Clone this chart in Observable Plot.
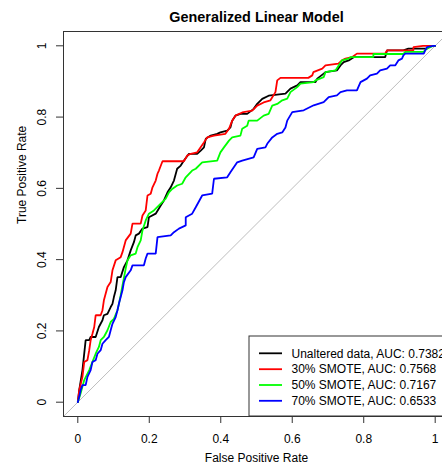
<!DOCTYPE html>
<html>
<head>
<meta charset="utf-8">
<script src="https://cdn.jsdelivr.net/npm/d3@7"></script>
<script src="https://cdn.jsdelivr.net/npm/@observablehq/plot@0.6"></script>
<style>
  html, body { margin: 0; padding: 0; background: white; overflow: hidden; }
  #chart { width: 460px; }
  svg { display: block; max-width: none !important; }
</style>
</head>
<body>
<div id="chart"></div>
<script>
const chartTitle = "Generalized Linear Model";
const xLabel = "False Positive Rate";
const yLabel = "True Positive Rate";
const xTicks = [0, 0.2, 0.4, 0.6, 0.8, 1];
const xTickLabels = ["0", "0.2", "0.4", "0.6", "0.8", "1"];
const yTicks = [0, 0.2, 0.4, 0.6, 0.8, 1];
const yTickLabels = ["0", "0.2", "0.4", "0.6", "0.8", "1"];

const seriesNames = ["Unaltered data", "30% SMOTE", "50% SMOTE", "70% SMOTE"];
const seriesAUC = ["0.7382", "0.7568", "0.7167", "0.6533"];
const seriesColors = ["#000000", "#ff0000", "#00ff00", "#0000ff"];

const fprBlack = [0,0.004,0.013,0.022,0.032,0.036,0.050,0.059,0.069,0.073,0.083,0.092,0.097,0.101,0.106,0.111,0.120,0.129,0.139,0.148,0.157,0.162,0.171,0.181,0.195,0.199,0.218,0.232,0.241,0.251,0.260,0.269,0.278,0.288,0.297,0.311,0.334,0.344,0.353,0.358,0.372,0.390,0.399,0.418,0.427,0.432,0.441,0.455,0.474,0.492,0.502,0.516,0.534,0.581,0.595,0.614,0.623,0.665,0.670,0.688,0.693,0.725,0.735,0.744,0.758,0.772,0.860,0.865,0.911,0.925,0.977,0.986,1];
const tprBlack = [0,0.034,0.090,0.174,0.174,0.183,0.183,0.211,0.230,0.244,0.248,0.267,0.276,0.295,0.314,0.351,0.351,0.379,0.398,0.426,0.449,0.468,0.473,0.487,0.491,0.519,0.529,0.552,0.566,0.589,0.603,0.622,0.655,0.664,0.678,0.697,0.697,0.706,0.715,0.739,0.748,0.753,0.757,0.762,0.771,0.790,0.804,0.809,0.809,0.823,0.837,0.851,0.860,0.866,0.880,0.889,0.898,0.898,0.908,0.922,0.926,0.931,0.945,0.954,0.959,0.968,0.968,0.987,0.987,0.992,0.992,1,1];

const fprRed = [0,0.004,0.013,0.018,0.027,0.032,0.036,0.041,0.046,0.050,0.064,0.069,0.073,0.083,0.092,0.097,0.106,0.120,0.125,0.134,0.148,0.153,0.176,0.181,0.190,0.195,0.204,0.209,0.218,0.223,0.227,0.237,0.297,0.306,0.316,0.334,0.353,0.362,0.381,0.413,0.423,0.432,0.441,0.460,0.488,0.502,0.520,0.539,0.553,0.558,0.567,0.645,0.656,0.659,0.684,0.693,0.729,0.739,0.749,0.767,0.781,0.860,0.865,0.939,0.939,0.966,1];
const tprRed = [0,0.034,0.071,0.113,0.118,0.146,0.174,0.192,0.211,0.244,0.244,0.258,0.286,0.323,0.337,0.370,0.398,0.407,0.421,0.454,0.473,0.501,0.501,0.524,0.538,0.580,0.585,0.603,0.622,0.641,0.650,0.676,0.676,0.692,0.697,0.701,0.729,0.743,0.748,0.753,0.767,0.790,0.804,0.813,0.818,0.832,0.841,0.847,0.870,0.903,0.910,0.910,0.917,0.926,0.936,0.945,0.950,0.959,0.964,0.968,0.978,0.978,0.987,0.987,0.996,1,1];

const fprGreen = [0,0.008,0.018,0.032,0.041,0.050,0.059,0.064,0.073,0.083,0.092,0.101,0.111,0.115,0.120,0.125,0.134,0.139,0.148,0.162,0.167,0.176,0.181,0.190,0.199,0.213,0.232,0.246,0.255,0.265,0.278,0.292,0.302,0.320,0.330,0.348,0.390,0.399,0.409,0.423,0.432,0.455,0.460,0.474,0.478,0.502,0.520,0.534,0.544,0.558,0.572,0.586,0.595,0.614,0.623,0.660,0.665,0.688,0.693,0.721,0.730,0.739,0.758,0.763,0.827,0.827,0.911,0.916,0.967,0.977,0.995,1];
const tprGreen = [0,0.025,0.062,0.090,0.113,0.136,0.155,0.174,0.183,0.202,0.225,0.234,0.258,0.276,0.300,0.328,0.375,0.398,0.412,0.417,0.435,0.454,0.482,0.510,0.529,0.538,0.557,0.571,0.589,0.599,0.608,0.613,0.631,0.650,0.655,0.673,0.678,0.701,0.715,0.734,0.743,0.748,0.767,0.776,0.790,0.790,0.804,0.809,0.832,0.837,0.847,0.852,0.870,0.884,0.894,0.898,0.903,0.912,0.926,0.931,0.945,0.959,0.964,0.968,0.968,0.977,0.977,0.983,0.983,0.992,1,1];

const fprBlue = [0,0.004,0.008,0.013,0.022,0.027,0.036,0.041,0.050,0.055,0.064,0.069,0.078,0.087,0.092,0.097,0.106,0.111,0.115,0.120,0.125,0.129,0.134,0.148,0.153,0.185,0.190,0.195,0.218,0.223,0.260,0.269,0.283,0.302,0.302,0.320,0.330,0.348,0.376,0.381,0.418,0.427,0.446,0.460,0.492,0.502,0.525,0.530,0.544,0.558,0.572,0.581,0.586,0.600,0.632,0.660,0.688,0.702,0.725,0.735,0.753,0.781,0.791,0.809,0.818,0.837,0.846,0.865,0.874,0.888,0.897,0.907,0.911,0.916,0.968,0.972,0.977,0.995,1];
const tprBlue = [0,0.015,0.034,0.048,0.048,0.071,0.090,0.113,0.118,0.136,0.146,0.164,0.174,0.183,0.202,0.220,0.239,0.258,0.276,0.295,0.314,0.337,0.351,0.370,0.384,0.384,0.403,0.417,0.417,0.463,0.468,0.477,0.487,0.496,0.519,0.529,0.547,0.580,0.585,0.627,0.631,0.645,0.673,0.678,0.687,0.711,0.715,0.725,0.743,0.753,0.757,0.771,0.790,0.814,0.819,0.833,0.842,0.856,0.861,0.870,0.875,0.875,0.898,0.908,0.917,0.922,0.931,0.936,0.945,0.945,0.959,0.964,0.973,0.978,0.978,0.987,0.996,1,1];

const seriesFpr = [fprBlack, fprRed, fprGreen, fprBlue];
const seriesTpr = [tprBlack, tprRed, tprGreen, tprBlue];

// chance diagonal spanning the full (4%-extended) plot region
const diagonal = [{x: -0.04, y: -0.04}, {x: 1.04, y: 1.04}];

const font = "'Liberation Sans', Arial, Helvetica, sans-serif";

const curveMarks = seriesNames.map((name, i) =>
  Plot.line(seriesFpr[i].map((f, j) => ({fpr: f, tpr: seriesTpr[i][j]})), {
    x: "fpr", y: "tpr", stroke: seriesColors[i], strokeWidth: 1.8, strokeLinejoin: "miter"
  })
);

const W = 460, H = 465;
const mL = 63, mR = 11, mT = 31, mB = 49, ins = 14.3;

const svg = Plot.plot({
  width: W, height: H,
  marginLeft: mL, marginRight: mR, marginTop: mT, marginBottom: mB,
  insetLeft: ins, insetRight: ins, insetTop: ins, insetBottom: ins,
  x: {domain: [0, 1]},
  y: {domain: [0, 1]},
  style: {fontFamily: font, fontSize: "12px", color: "black", background: "white", maxWidth: "none"},
  marks: [
    Plot.line(diagonal, {x: "x", y: "y", stroke: "#bebebe", strokeWidth: 1}),
    ...curveMarks,
    Plot.frame({stroke: "#333", strokeWidth: 1}),
    Plot.axisX({ticks: xTicks, tickSize: 7, tickPadding: 11, tickFormat: (d, i) => xTickLabels[i], label: null, stroke: "#333", fontSize: 12}),
    Plot.axisY({ticks: yTicks, tickSize: 7, tickFormat: () => "", label: null, stroke: "#333"}),
    Plot.text(yTicks, {y: d => d, text: (d, i) => yTickLabels[i], frameAnchor: "left", dx: -18, rotate: -90, lineAnchor: "bottom", textAnchor: "middle", fontSize: 12}),
    Plot.text([chartTitle], {frameAnchor: "top", dy: -14, lineAnchor: "middle", fontWeight: "bold", fontSize: 14.4}),
    Plot.text([xLabel], {frameAnchor: "bottom", dy: 42, lineAnchor: "middle", fontSize: 12}),
    Plot.text([yLabel], {frameAnchor: "left", dx: -41, rotate: -90, lineAnchor: "middle", fontSize: 12})
  ]
});
svg.setAttribute("width", W);
svg.setAttribute("height", H);
svg.style.width = W + "px";
svg.style.height = H + "px";

// legend (bottom-right, as in R's legend())
const lg = d3.select(svg).append("g")
  .attr("font-family", font).attr("font-size", 12).attr("text-anchor", "start");
const boxLeft = 249, boxTop = 336, boxRight = W - mR, boxBottom = H - mB;
lg.append("rect")
  .attr("x", boxLeft).attr("y", boxTop)
  .attr("width", boxRight - boxLeft).attr("height", boxBottom - boxTop)
  .attr("fill", "white").attr("stroke", "#333").attr("stroke-width", 1);
const rowY = [353.3, 369.2, 385, 400.8];
seriesNames.forEach((name, i) => {
  lg.append("line")
    .attr("x1", 259).attr("x2", 282).attr("y1", rowY[i]).attr("y2", rowY[i])
    .attr("stroke", seriesColors[i]).attr("stroke-width", 1.8);
  lg.append("text")
    .attr("x", 291.5).attr("y", rowY[i]).attr("dy", "0.35em")
    .attr("text-anchor", "start")
    .attr("fill", "black")
    .text(`${name}, AUC: ${seriesAUC[i]}`);
});

document.getElementById("chart").appendChild(svg);
</script>
</body>
</html>
